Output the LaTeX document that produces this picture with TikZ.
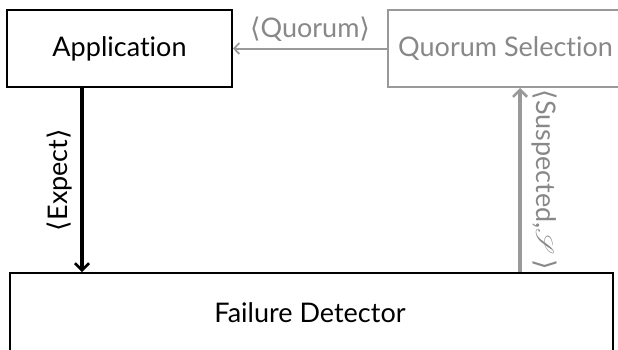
\documentclass[tikz,border=0pt]{standalone}
\usepackage{fontspec}
\usepackage{mathrsfs}
\setmainfont{Lato}[Ligatures=NoCommon]
\newfontfamily\brkfont{DejaVu Sans}
\usetikzlibrary{arrows.meta}
\definecolor{dimgray}{HTML}{999999}
\definecolor{dimtext}{HTML}{888888}
\newcommand{\lbrk}{{\brkfont\fontsize{27}{32}\selectfont ⟨}}
\newcommand{\rbrk}{{\brkfont\fontsize{27}{32}\selectfont ⟩}}
\begin{document}
\begin{tikzpicture}[x=1pt,y=-1pt,
  box/.style={draw=black,line width=2pt,inner sep=0pt,font=\fontsize{27}{32}\selectfont},
  dimbox/.style={box,draw=dimgray,text=dimtext},
  lbl/.style={font=\fontsize{27}{32}\selectfont,inner sep=0pt},
  flow/.style={line width=3.4pt,-{Straight Barb[length=7pt,width=14pt,line width=2.6pt]}}]
\useasboundingbox (0,0) rectangle (618,349);
\clip (0,0) rectangle (618,349);
% modules
\node[box,minimum width=225pt,minimum height=77pt] (app) at (119.5,48.5) {Application};
\node[dimbox,minimum width=240pt,minimum height=77pt,anchor=west] (qs) at (387,48.5) {};
\node[lbl,text=dimtext,anchor=west] (qstext) at (398,48.5) {Quorum Selection};
\node[box,minimum width=603pt,minimum height=110pt,anchor=north west] (fd) at (9,272) {};
\node[lbl] (fdtext) at (310,313) {Failure Detector};
% Quorum selection to application
\draw[draw=dimgray,line width=2pt,-{Straight Barb[length=5pt,width=11pt,line width=1.8pt]}]
  (qs.west) -- (app.east) node[midway,above=6pt,lbl,text=dimtext] (qlabel) {\lbrk Quorum\rbrk};
% application to failure detector
\coordinate (expfoot) at (82,0 |- fd.north);
\coordinate (exphead) at (82,0 |- app.south);
\draw[flow] (exphead) -- (expfoot)
  node[midway,rotate=90,lbl,anchor=south,yshift=8pt] (elabel) {\lbrk Expect\rbrk};
% failure detector to quorum selection
\coordinate (susfoot) at (520,0 |- fd.north);
\coordinate (sushead) at (520,0 |- qs.south);
\draw[flow,draw=dimgray] (susfoot) -- (sushead)
  node[midway,rotate=-90,lbl,text=dimtext,anchor=south,yshift=10pt] (slabel) {\lbrk Suspected,$\mathscr{S}$\,\rbrk};
\end{tikzpicture}
\end{document}
